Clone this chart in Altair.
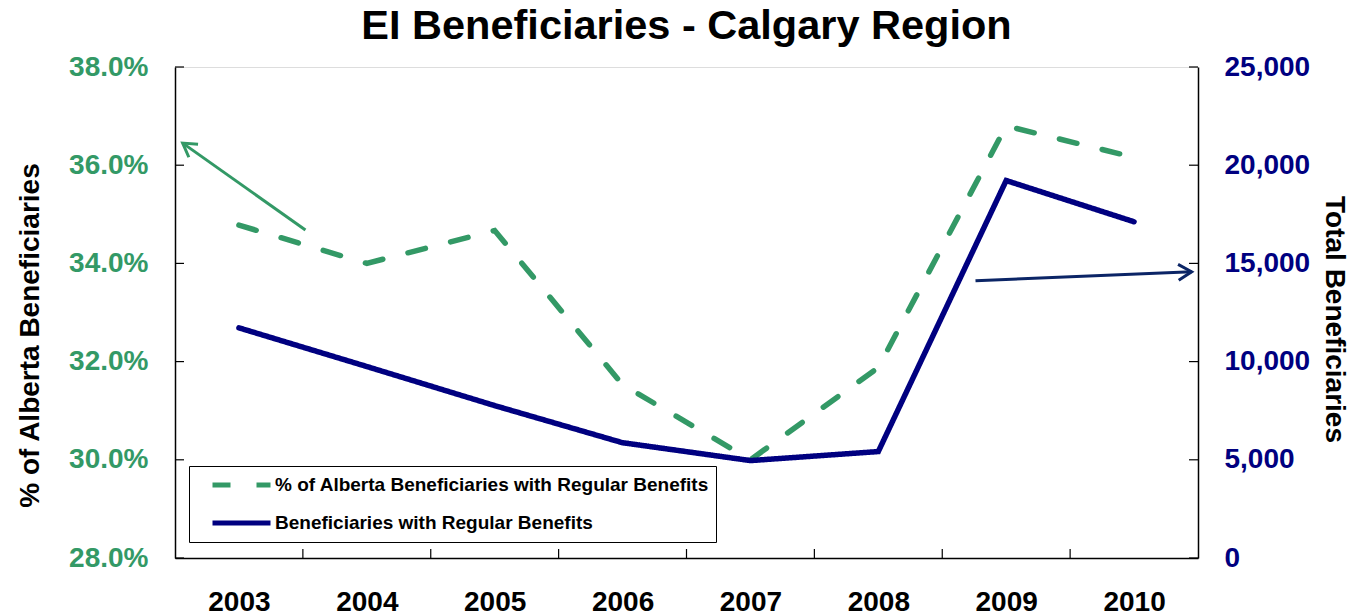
import altair as alt
import pandas as pd

# ---- data ----
years = [2003, 2004, 2005, 2006, 2007, 2008, 2009, 2010]
pct_alberta = [34.78, 34.0, 34.67, 31.53, 30.0, 31.88, 36.8, 36.16]
beneficiaries = [11720, 9750, 7760, 5870, 4960, 5420, 19220, 17120]

series_names = ["% of Alberta Beneficiaries with Regular Benefits",
                "Beneficiaries with Regular Benefits"]

left_ticks = [28, 30, 32, 34, 36, 38]
right_ticks = [0, 5000, 10000, 15000, 20000, 25000]
x_bounds = [2003.5, 2004.5, 2005.5, 2006.5, 2007.5, 2008.5, 2009.5]

# annotation arrows (in data units): start -> tip
green_arrow = {"x0": 2003.52, "y0": 34.68, "x1": 2002.56, "y1": 36.45, "ang": 215.5}
navy_arrow = {"x0": 2008.76, "y0": 14115, "x1": 2010.45, "y1": 14573, "ang": 357.6}

GREEN = "#339966"
NAVY = "#000080"
ARROW_NAVY = "#0B2566"
FONT = "Liberation Sans"
W, H = 1023, 491

df_pct = pd.DataFrame({"year": years, "v": pct_alberta, "series": series_names[0]})
df_ben = pd.DataFrame({"year": years, "v": beneficiaries, "series": series_names[1]})

x_scale = alt.Scale(domain=[2002.5, 2010.5], nice=False, zero=False)
x_axis = alt.Axis(values=years, format="d", labelFontSize=28, labelFontWeight="bold",
                  labelColor="black", labelFont=FONT, ticks=False, grid=False,
                  domainColor="black", domainWidth=1.5, labelPadding=30, labelFlush=False)

left_scale = alt.Scale(domain=[28, 38], nice=False, zero=False)
left_axis = alt.Axis(orient="left", values=left_ticks, labelExpr="format(datum.value, '.1f') + '%'",
                     labelFontSize=28, labelFontWeight="bold", labelColor=GREEN, labelFont=FONT,
                     ticks=False, grid=False, domainColor="black", domainWidth=1.5,
                     labelPadding=27, title="% of Alberta Beneficiaries", titleFontSize=28,
                     titleFontWeight="bold", titleFont=FONT, titleColor="black", titlePadding=24,
                     titleY=268)

right_scale = alt.Scale(domain=[0, 25000], nice=False, zero=True)
right_axis = alt.Axis(orient="right", values=right_ticks, format=",d",
                      labelFontSize=28, labelFontWeight="bold", labelColor=NAVY, labelFont=FONT,
                      ticks=False, grid=False, domainColor="black", domainWidth=1.5,
                      labelPadding=26, title="Total Beneficiaries", titleFontSize=28,
                      titleFontWeight="bold", titleFont=FONT, titleColor="black", titlePadding=10,
                      titleY=252)

legend = alt.Legend(orient="none", legendX=14, legendY=399, direction="vertical",
                    fillColor="white", strokeColor="black", padding=7, symbolOffset=14,
                    clipHeight=24, labelFont=FONT, labelFontSize=19, labelFontWeight="bold",
                    labelColor="black", labelLimit=700, symbolType="stroke", symbolSize=3364,
                    symbolStrokeWidth=5, labelOffset=2, rowPadding=14)


def X(field):
    return alt.X(field, type="quantitative", scale=x_scale, axis=x_axis, title=None)


def YL(field):
    return alt.Y(field, type="quantitative", scale=left_scale, axis=left_axis)


def YR(field):
    return alt.Y(field, type="quantitative", scale=right_scale, axis=right_axis)


color_enc = alt.Color("series:N", scale=alt.Scale(domain=series_names, range=[GREEN, NAVY]),
                      title=None, legend=legend)
dash_enc = alt.StrokeDash("series:N", scale=alt.Scale(domain=series_names, range=[[18, 26], [1, 0]]),
                          title=None, legend=legend)

green_line = alt.Chart(df_pct).mark_line(strokeWidth=5.5, strokeCap="round").encode(
    x=X("year"), y=YL("v"), color=color_enc, strokeDash=dash_enc)
blue_line = alt.Chart(df_ben).mark_line(strokeWidth=5.5, strokeCap="round").encode(
    x=X("year"), y=YR("v"), color=color_enc, strokeDash=dash_enc)

left_tick_marks = alt.Chart(pd.DataFrame({"v": left_ticks})).mark_rule(color="black", strokeWidth=1.2).encode(
    y=YL("v"), x=alt.value(0), x2=alt.value(9))
right_tick_marks = alt.Chart(pd.DataFrame({"v": right_ticks})).mark_rule(color="black", strokeWidth=1.2).encode(
    y=YR("v"), x=alt.value(W - 9), x2=alt.value(W))
x_tick_marks = alt.Chart(pd.DataFrame({"year": x_bounds})).mark_rule(
    color="black", strokeWidth=1.2).encode(x=X("year"), y=alt.value(H - 9), y2=alt.value(H))

ga = pd.DataFrame([green_arrow])
na = pd.DataFrame([navy_arrow])
arrow_shape = "M-1,-0.6L0,0L-1,0.6"

green_shaft = alt.Chart(ga).mark_rule(color=GREEN, strokeWidth=3).encode(
    x=X("x0"), y=YL("y0"), x2="x1", y2="y1")
green_head = alt.Chart(ga).mark_point(shape=arrow_shape, filled=False, color=GREEN, strokeWidth=3,
                                      size=700, opacity=1).encode(
    x=X("x1"), y=YL("y1"), angle=alt.Angle("ang:Q", scale=None))
navy_shaft = alt.Chart(na).mark_rule(color=ARROW_NAVY, strokeWidth=3).encode(
    x=X("x0"), y=YR("y0"), x2="x1", y2="y1")
navy_head = alt.Chart(na).mark_point(shape=arrow_shape, filled=False, color=ARROW_NAVY, strokeWidth=3,
                                     size=700, opacity=1).encode(
    x=X("x1"), y=YR("y1"), angle=alt.Angle("ang:Q", scale=None))

left_group = alt.layer(green_line, left_tick_marks, x_tick_marks, green_shaft, green_head)
right_group = alt.layer(blue_line, right_tick_marks, navy_shaft, navy_head)

chart = alt.layer(left_group, right_group).resolve_scale(y="independent").properties(
    width=W, height=H,
    title=alt.TitleParams("EI Beneficiaries  - Calgary Region", fontSize=41.5, fontWeight="bold",
                          font=FONT, color="black", anchor="middle", offset=6),
    autosize=alt.AutoSizeParams(type="none"),
    padding={"left": 167, "top": 59, "right": 149, "bottom": 53},
).configure_view(stroke="#808080", strokeWidth=1).configure(background="white")

chart.save("out.html", embed_options={"renderer": "svg", "actions": False})
